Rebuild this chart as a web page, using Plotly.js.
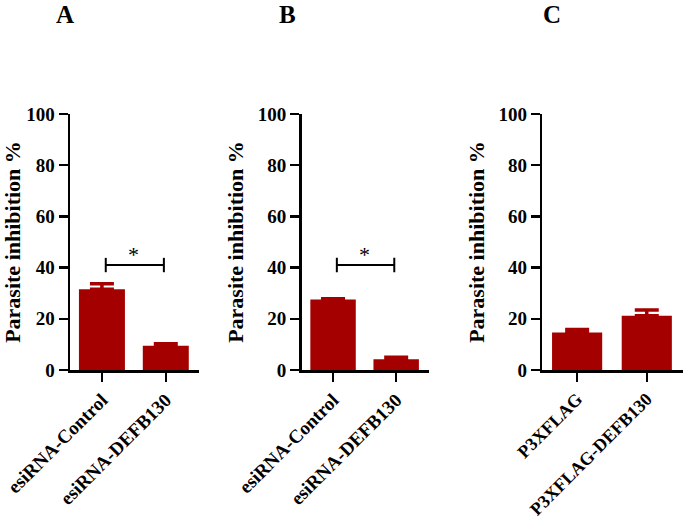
<!DOCTYPE html>
<html>
<head>
<meta charset="utf-8">
<script src="https://cdn.plot.ly/plotly-3.0.1.min.js"></script>
<style>html,body{margin:0;padding:0;background:#fff;}#chart{width:685px;height:526px;}</style>
</head>
<body>
<div id="chart"></div>
<script>
// Data
const catsA = ["esiRNA-Control", "esiRNA-DEFB130"];
const valsA = [31.5, 9.5];
const errA = [2.2, 0.8];

const catsB = ["esiRNA-Control", "esiRNA-DEFB130"];
const valsB = [27.5, 4.2];
const errB = [0.3, 0.8];

const catsC = ["P3XFLAG", "P3XFLAG-DEFB130"];
const valsC = [14.6, 21.2];
const errC = [1.2, 2.2];

const panelLabels = ["A", "B", "C"];
const yTicks = [0, 20, 40, 60, 80, 100];
const yTitle = "Parasite inhibition %";
// significance bracket (A and B): between categories 0 and 1 at level 41
const sigPanels = [1, 2];
const sigLevel = 41;

const barColor = "#a50000";
const serif = "Liberation Serif";

function barTrace(cats, vals, errs, n) {
  return {
    type: "bar",
    x: cats, y: vals,
    xaxis: "x" + (n === 1 ? "" : n), yaxis: "y" + (n === 1 ? "" : n),
    width: 0.72,
    marker: {color: barColor, line: {width: 0}},
    error_y: {type: "data", array: errs, arrayminus: errs.map(() => 0), symmetric: false,
              color: barColor, thickness: 3.5, width: 12},
    hoverinfo: "skip"
  };
}

const data = [
  barTrace(catsA, valsA, errA, 1),
  barTrace(catsB, valsB, errB, 2),
  barTrace(catsC, valsC, errC, 3)
];

const W = 685, H = 526;
const xDomains = [[70 / W, 199 / W], [301.5 / W, 429 / W], [542.3 / W, 683 / W]];
const yDomain = [(H - 370) / H, (H - 114) / H];

function xAxis(dom, anchor, fs) {
  return {
    domain: dom, anchor: anchor, range: [-0.5, 1.52], type: "category",
    showline: true, linecolor: "#000", linewidth: 2.5, mirror: false,
    ticks: "outside", ticklen: 9, tickwidth: 2.5, tickcolor: "#000",
    tickangle: -45, showgrid: false, zeroline: false, automargin: false,
    tickfont: {family: serif, size: fs, color: "#000", weight: "bold"},
    fixedrange: true
  };
}
function yAxis(anchor) {
  return {
    domain: yDomain, anchor: anchor, range: [0, 100],
    tickvals: yTicks, ticktext: yTicks.map(String),
    showline: true, linecolor: "#000", linewidth: 2.5,
    ticks: "outside", ticklen: 9, tickwidth: 2.5, tickcolor: "#000",
    showgrid: false, zeroline: false, automargin: false,
    tickfont: {family: serif, size: 19, color: "#000", weight: "bold"},
    title: {text: yTitle, standoff: 8, font: {family: serif, size: 22, color: "#000", weight: "bold"}},
    fixedrange: true
  };
}

const annotations = [];
const shapes = [];
panelLabels.forEach((lab, i) => {
  annotations.push({
    text: lab, xref: "paper", yref: "paper",
    x: [65 / W, 287 / W, 552 / W][i], y: (H - 15) / H,
    showarrow: false, xanchor: "center", yanchor: "middle",
    font: {family: serif, size: 25, color: "#000", weight: "bold"}
  });
});
sigPanels.forEach(n => {
  const xr = "x" + (n === 1 ? "" : n), yr = "y" + (n === 1 ? "" : n);
  const line = {color: "#000", width: 2};
  shapes.push({type: "line", xref: xr, yref: yr, x0: 0.06, x1: 0.97, y0: sigLevel, y1: sigLevel, line: line});
  shapes.push({type: "line", xref: xr, yref: yr, x0: 0.06, x1: 0.06, y0: sigLevel - 2.8, y1: sigLevel + 2.8, line: line});
  shapes.push({type: "line", xref: xr, yref: yr, x0: 0.97, x1: 0.97, y0: sigLevel - 2.8, y1: sigLevel + 2.8, line: line});
  annotations.push({
    text: "*", xref: xr, yref: yr, x: 0.5, y: sigLevel - 1.5, showarrow: false,
    yanchor: "bottom", xanchor: "center",
    font: {family: serif, size: 22, color: "#000"}
  });
});

const layout = {
  width: W, height: H,
  margin: {l: 0, r: 0, t: 0, b: 0},
  paper_bgcolor: "#fff", plot_bgcolor: "#fff",
  showlegend: false, bargap: 0.28,
  font: {family: serif},
  xaxis: xAxis(xDomains[0], "y", 19),
  yaxis: yAxis("x"),
  xaxis2: xAxis(xDomains[1], "y2", 19),
  yaxis2: yAxis("x2"),
  xaxis3: xAxis(xDomains[2], "y3", 18),
  yaxis3: yAxis("x3"),
  annotations: annotations,
  shapes: shapes
};

Plotly.newPlot("chart", data, layout, {displayModeBar: false, staticPlot: true});
</script>
</body>
</html>
